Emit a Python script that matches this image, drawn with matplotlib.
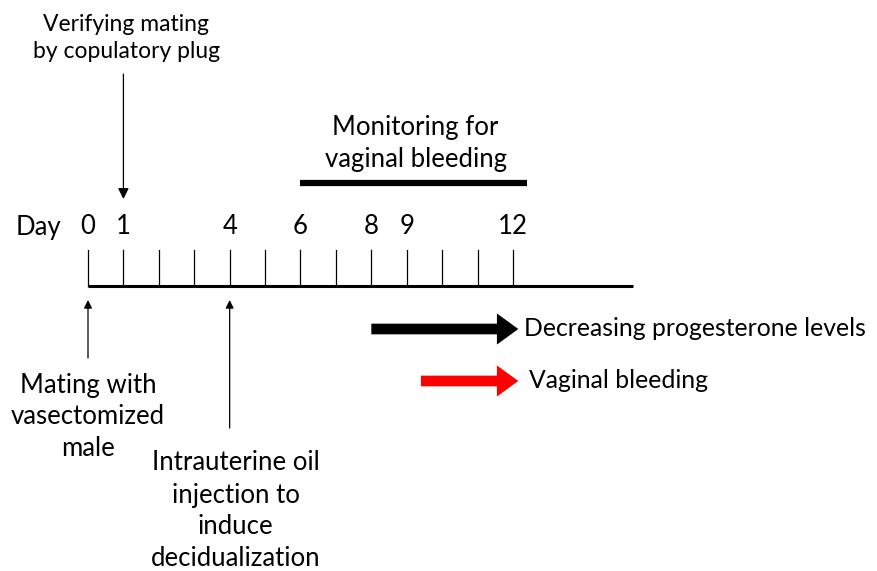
import matplotlib
matplotlib.use("Agg")
import matplotlib.pyplot as plt

# ---- data ----
tick_days = list(range(13))
labeled_days = [0, 1, 4, 6, 8, 9, 12]
axis_end_day = 15.4
monitor_start, monitor_end = 6, 12.4
monitor_label = "Monitoring for\nvaginal bleeding"
top_event_day = 1
top_event_label = "Verifying mating\nby copulatory plug"
bottom_events_days = [0, 4]
bottom_events_labels = ["Mating with\nvasectomized\nmale",
                        "Intrauterine oil\ninjection to\ninduce\ndecidualization"]
legend_labels = ["Decreasing progesterone levels", "Vaginal bleeding"]
legend_colors = ["black", "#ff0000"]
legend_start_days = [8.0, 9.4]
legend_end_day = 12.15

plt.rcParams['font.family'] = ['Lato', 'DejaVu Sans']
FS = 18.5
LS = 1.35

W, H = 878, 571
fig = plt.figure(figsize=(W / 100, H / 100), dpi=100)
ax = fig.add_axes([0, 0, 1, 1])
px_per_day = (513 - 88) / 12
x0 = 88
ax.set_xlim(-x0 / px_per_day, (W - x0) / px_per_day)
ax.set_ylim(H, 0)
ax.axis('off')

base_y = 286
tick_top = 250
# baseline
ax.plot([tick_days[0], axis_end_day], [base_y, base_y], color='black', lw=2.2, solid_capstyle='butt')
for d in tick_days:
    ax.plot([d, d], [tick_top, base_y], color='black', lw=0.9)

ax.text(-1.4, 227, "Day", fontsize=FS, ha='center', va='center')
for d in labeled_days:
    ax.text(d, 227, str(d), fontsize=FS, ha='center', va='center')

# monitoring bar
ax.plot([monitor_start, monitor_end], [183, 183], color='black', lw=4.5, solid_capstyle='butt')
ax.text((monitor_start + monitor_end) / 2 + 0.05, 144, monitor_label, fontsize=FS,
        ha='center', va='center', linespacing=LS)

# top event arrow
ax.annotate("", xy=(top_event_day, 199), xytext=(top_event_day, 74),
            arrowprops=dict(arrowstyle='-|>', color='black', lw=0.9, mutation_scale=16,
                            shrinkA=0, shrinkB=0))
ax.text(top_event_day + 0.08, 38, top_event_label, fontsize=16.5, ha='center', va='center',
        linespacing=1.3)

# bottom event arrows
arrow_bottoms = [358, 428]
text_centers = [417, 511]
text_offsets = [0.0, 0.17]
for d, lab, yb, yc, off in zip(bottom_events_days, bottom_events_labels, arrow_bottoms,
                               text_centers, text_offsets):
    ax.annotate("", xy=(d, 300), xytext=(d, yb),
                arrowprops=dict(arrowstyle='-|>', color='black', lw=0.9, mutation_scale=12,
                                shrinkA=0, shrinkB=0))
    ax.text(d + off, yc, lab, fontsize=FS, ha='center', va='center', linespacing=LS)

# legend arrows
leg_y = [329, 381]
text_gaps = [0.15, 0.3]
for lab, c, sd, y, g in zip(legend_labels, legend_colors, legend_start_days, leg_y, text_gaps):
    ax.annotate("", xy=(legend_end_day, y), xytext=(sd, y),
                arrowprops=dict(arrowstyle='simple,head_length=1.1,head_width=1.6,tail_width=0.55',
                                color=c, lw=0, mutation_scale=14, shrinkA=0, shrinkB=0))
    ax.text(legend_end_day + g, y, lab, fontsize=17.8, ha='left', va='center')

fig.savefig("out.png", dpi=100)
